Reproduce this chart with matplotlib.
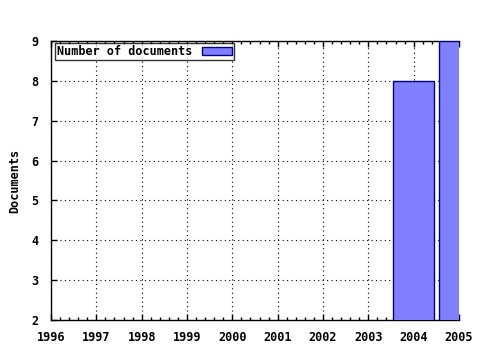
import matplotlib
matplotlib.use("Agg")
import matplotlib.pyplot as plt
from matplotlib.ticker import MultipleLocator

years = [2004, 2005]
documents = [8, 9]
year_ticks = list(range(1996, 2006))

plt.rcParams['font.family'] = 'DejaVu Sans Mono'
plt.rcParams['font.weight'] = 'bold'

fig = plt.figure(figsize=(4.8, 3.5), dpi=100)
ax = fig.add_axes([51/480, 30/350, 408/480, 279/350])

ax.bar(years, documents, width=0.9, color='#8080ff', edgecolor='#000080',
       linewidth=1, label='Number of documents', zorder=3)

ax.set_xlim(1996, 2005)
ax.set_ylim(2, 9)
ax.set_xticks(year_ticks)
ax.set_xticklabels([str(y) for y in year_ticks])
ax.xaxis.set_minor_locator(MultipleLocator(0.2))
ax.yaxis.set_major_locator(MultipleLocator(1))
ax.tick_params(axis='both', which='both', direction='in', top=True,
               labelsize=8.5, length=4, width=1)
ax.tick_params(which='minor', length=2)
ax.tick_params(axis='x', which='major', pad=8)
ax.tick_params(axis='y', which='both', right=False, pad=9)
ax.grid(True, which='major', color='black', linestyle=(0, (1, 3)), linewidth=0.8, zorder=0)
ax.set_axisbelow(True)
ax.set_ylabel('Documents', fontsize=8.5, fontweight='bold', labelpad=7)
for side in ['left', 'bottom', 'top']:
    ax.spines[side].set_linewidth(1)
ax.spines['right'].set_visible(False)

leg = ax.legend(loc='upper left', markerfirst=False, fontsize=8.5, frameon=True,
                fancybox=False, borderpad=0.2, handlelength=2.5, handleheight=0.6,
                borderaxespad=0.15, bbox_to_anchor=(0.005, 1.0))
leg.get_frame().set_edgecolor('black')
leg.get_frame().set_linewidth(1)

fig.savefig('out.png', dpi=100)
